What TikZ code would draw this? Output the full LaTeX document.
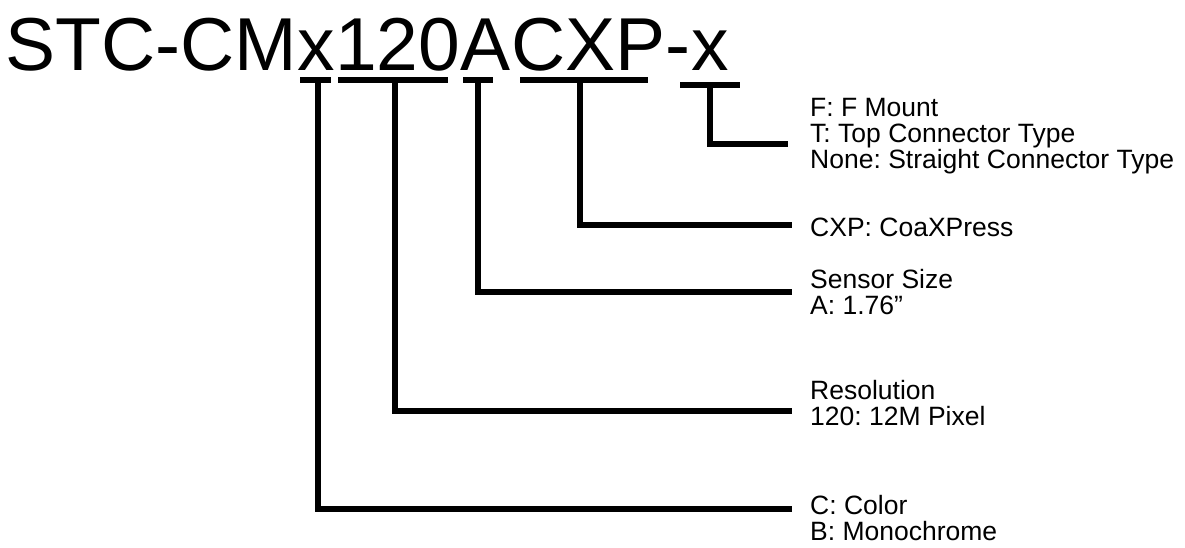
\documentclass[tikz,border=0pt]{standalone}
\usepackage{fontspec}
\setmainfont{Liberation Sans}
\usetikzlibrary{positioning,calc}
\frenchspacing
\tikzset{
  field/.style={font=\fontsize{75}{80}\selectfont,inner sep=0pt,anchor=base west},
  lbl/.style={font=\fontsize{26.5}{26}\selectfont,align=left,inner sep=0pt,
    anchor=base west},
  bar/.style={line width=6pt},
  lead/.style={line width=6pt,line join=miter},
}
\begin{document}
\begin{tikzpicture}[x=1pt,y=-1pt]
  \useasboundingbox (0,0) rectangle (1185,547);
  % part number, one node per field
  \node[field] (pre) at (5,70) {STC-CM};
  \node[field] (fcol) at (pre.base east) {x};
  \node[field] (fres) at (fcol.base east) {120};
  \node[field] (fsen) at (fres.base east) {A};
  \node[field] (fif) at (fsen.base east) {CXP};
  \node[field] (dash) at (fif.base east) {-};
  \node[field] (fmnt) at (dash.base east) {x};
  % underlines
  \draw[bar] (300,80) -- (331,80);
  \draw[bar] (338,80) -- (448,80);
  \draw[bar] (463,80) -- (493,80);
  \draw[bar] (520,80) -- (648,80);
  \draw[bar] (680,85) -- (740,85);
  \coordinate (mcol) at (318,80);
  \coordinate (mres) at (395,80);
  \coordinate (msen) at (478,80);
  \coordinate (mif) at (580,80);
  \coordinate (mmnt) at (710,85);
  % descriptions (base = last line)
  \node[lbl] (lmnt) at (810,168)
    {F: F Mount\\T: Top Connector Type\\None: Straight Connector Type};
  \node[lbl] (lif) at (810,236) {CXP: CoaXPress};
  \node[lbl] (lsen) at (810,314) {Sensor Size\\A: 1.76”};
  \node[lbl] (lres) at (810,425) {Resolution\\120: 12M Pixel};
  \node[lbl] (lcol) at (810,540) {C: Color\\B: Monochrome};
  \coordinate (emnt) at (788,144);
  \coordinate (eif) at (792,225);
  \coordinate (esen) at (792,292);
  \coordinate (eres) at (792,411);
  \coordinate (ecol) at (792,509);
  \draw[lead] (mmnt) |- (emnt);
  \draw[lead] (mif) |- (eif);
  \draw[lead] (msen) |- (esen);
  \draw[lead] (mres) |- (eres);
  \draw[lead] (mcol) |- (ecol);
\end{tikzpicture}
\end{document}
